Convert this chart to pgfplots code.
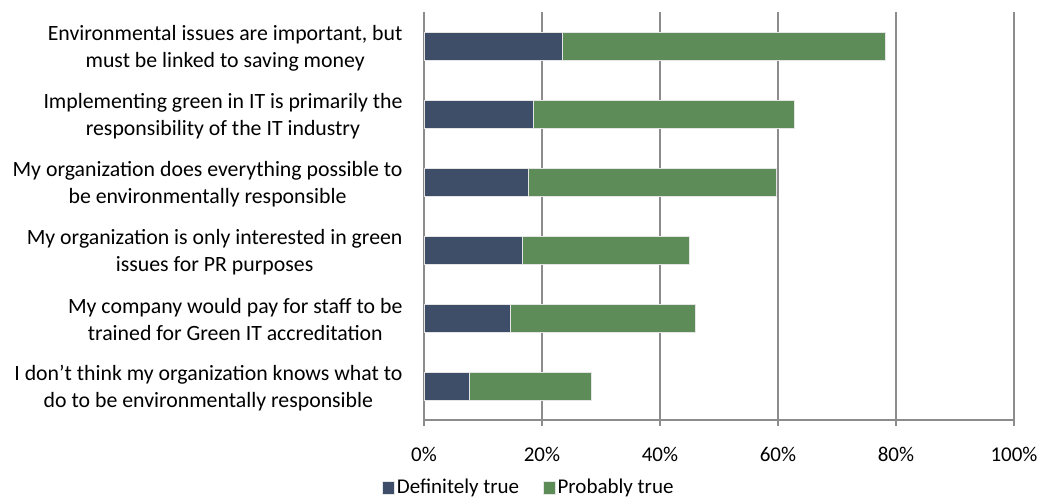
\documentclass[border=0pt]{standalone}
\usepackage{fontspec}
\setmainfont{Carlito}
\usepackage{pgfplots}
\pgfplotsset{compat=1.18}
\definecolor{cdark}{HTML}{3F4E68}
\definecolor{cgreen}{HTML}{5D8C59}
\definecolor{cgrid}{HTML}{8C8C8C}
\begin{document}
\begin{tikzpicture}
\useasboundingbox (-424bp,-77bp) rectangle (617bp,420bp);
\begin{axis}[
  at={(0,0)}, anchor=south west,
  scale only axis, width=590bp, height=408bp,
  xbar stacked, bar width=28bp,
  xmin=0, xmax=100, ymin=-0.5, ymax=5.5,
  y dir=reverse,
  axis x line*=bottom, axis y line*=left,
  axis line style={cgrid, line width=1.2pt},
  xtick={0,20,...,100},
  xticklabel={\pgfmathprintnumber{\tick}\%},
  xmajorgrids, grid style={cgrid, line width=1.2pt},
  x tick style={cgrid, line width=1.2pt},
  major tick length=6bp,
  xtick align=outside,
  ytick={0,...,5},
  y tick style={draw=none},
  minor ytick={-0.5,0.5,...,5.5},
  minor y tick style={cgrid, line width=1.2pt},
  minor tick length=6bp,
  ytick align=outside,
  yticklabels={
    {Environmental issues are important, but\\must be linked to saving money},
    {Implementing green in IT is primarily the\\responsibility of the IT industry},
    {My organization does everything possible to\\be environmentally responsible},
    {My organization is only interested in green\\issues for PR purposes},
    {My company would pay for staff to be\\trained for Green IT accreditation},
    {I don’t think my organization knows what to\\do to be environmentally responsible}
  },
  yticklabel style={align=center, font=\fontsize{21.8bp}{27bp}\selectfont, xshift=-12bp, yshift=-2bp},
  xticklabel style={font=\fontsize{21bp}{25bp}\selectfont, yshift=-18bp},
  /pgf/number format/assume math mode=true,
  legend style={at={(0.178,-0.164)}, anchor=center, draw=none, legend columns=2,
    font=\fontsize{21bp}{25bp}\selectfont,
    /tikz/every even column/.append style={column sep=22bp}},
  legend image code/.code={\fill[#1] (0bp,-7bp) rectangle (12bp,6bp);},
  clip=false,
]
\addplot[fill=cdark, draw=white!80!gray, line width=0.4pt] coordinates {
  (23.5,0) (18.5,1) (17.6,2) (16.6,3) (14.6,4) (7.6,5)};
\addplot[fill=cgreen, draw=white!80!gray, line width=0.4pt] coordinates {
  (54.7,0) (44.2,1) (42.1,2) (28.3,3) (31.4,4) (20.7,5)};
\legend{Definitely true, Probably true}
\end{axis}
\end{tikzpicture}
\end{document}
